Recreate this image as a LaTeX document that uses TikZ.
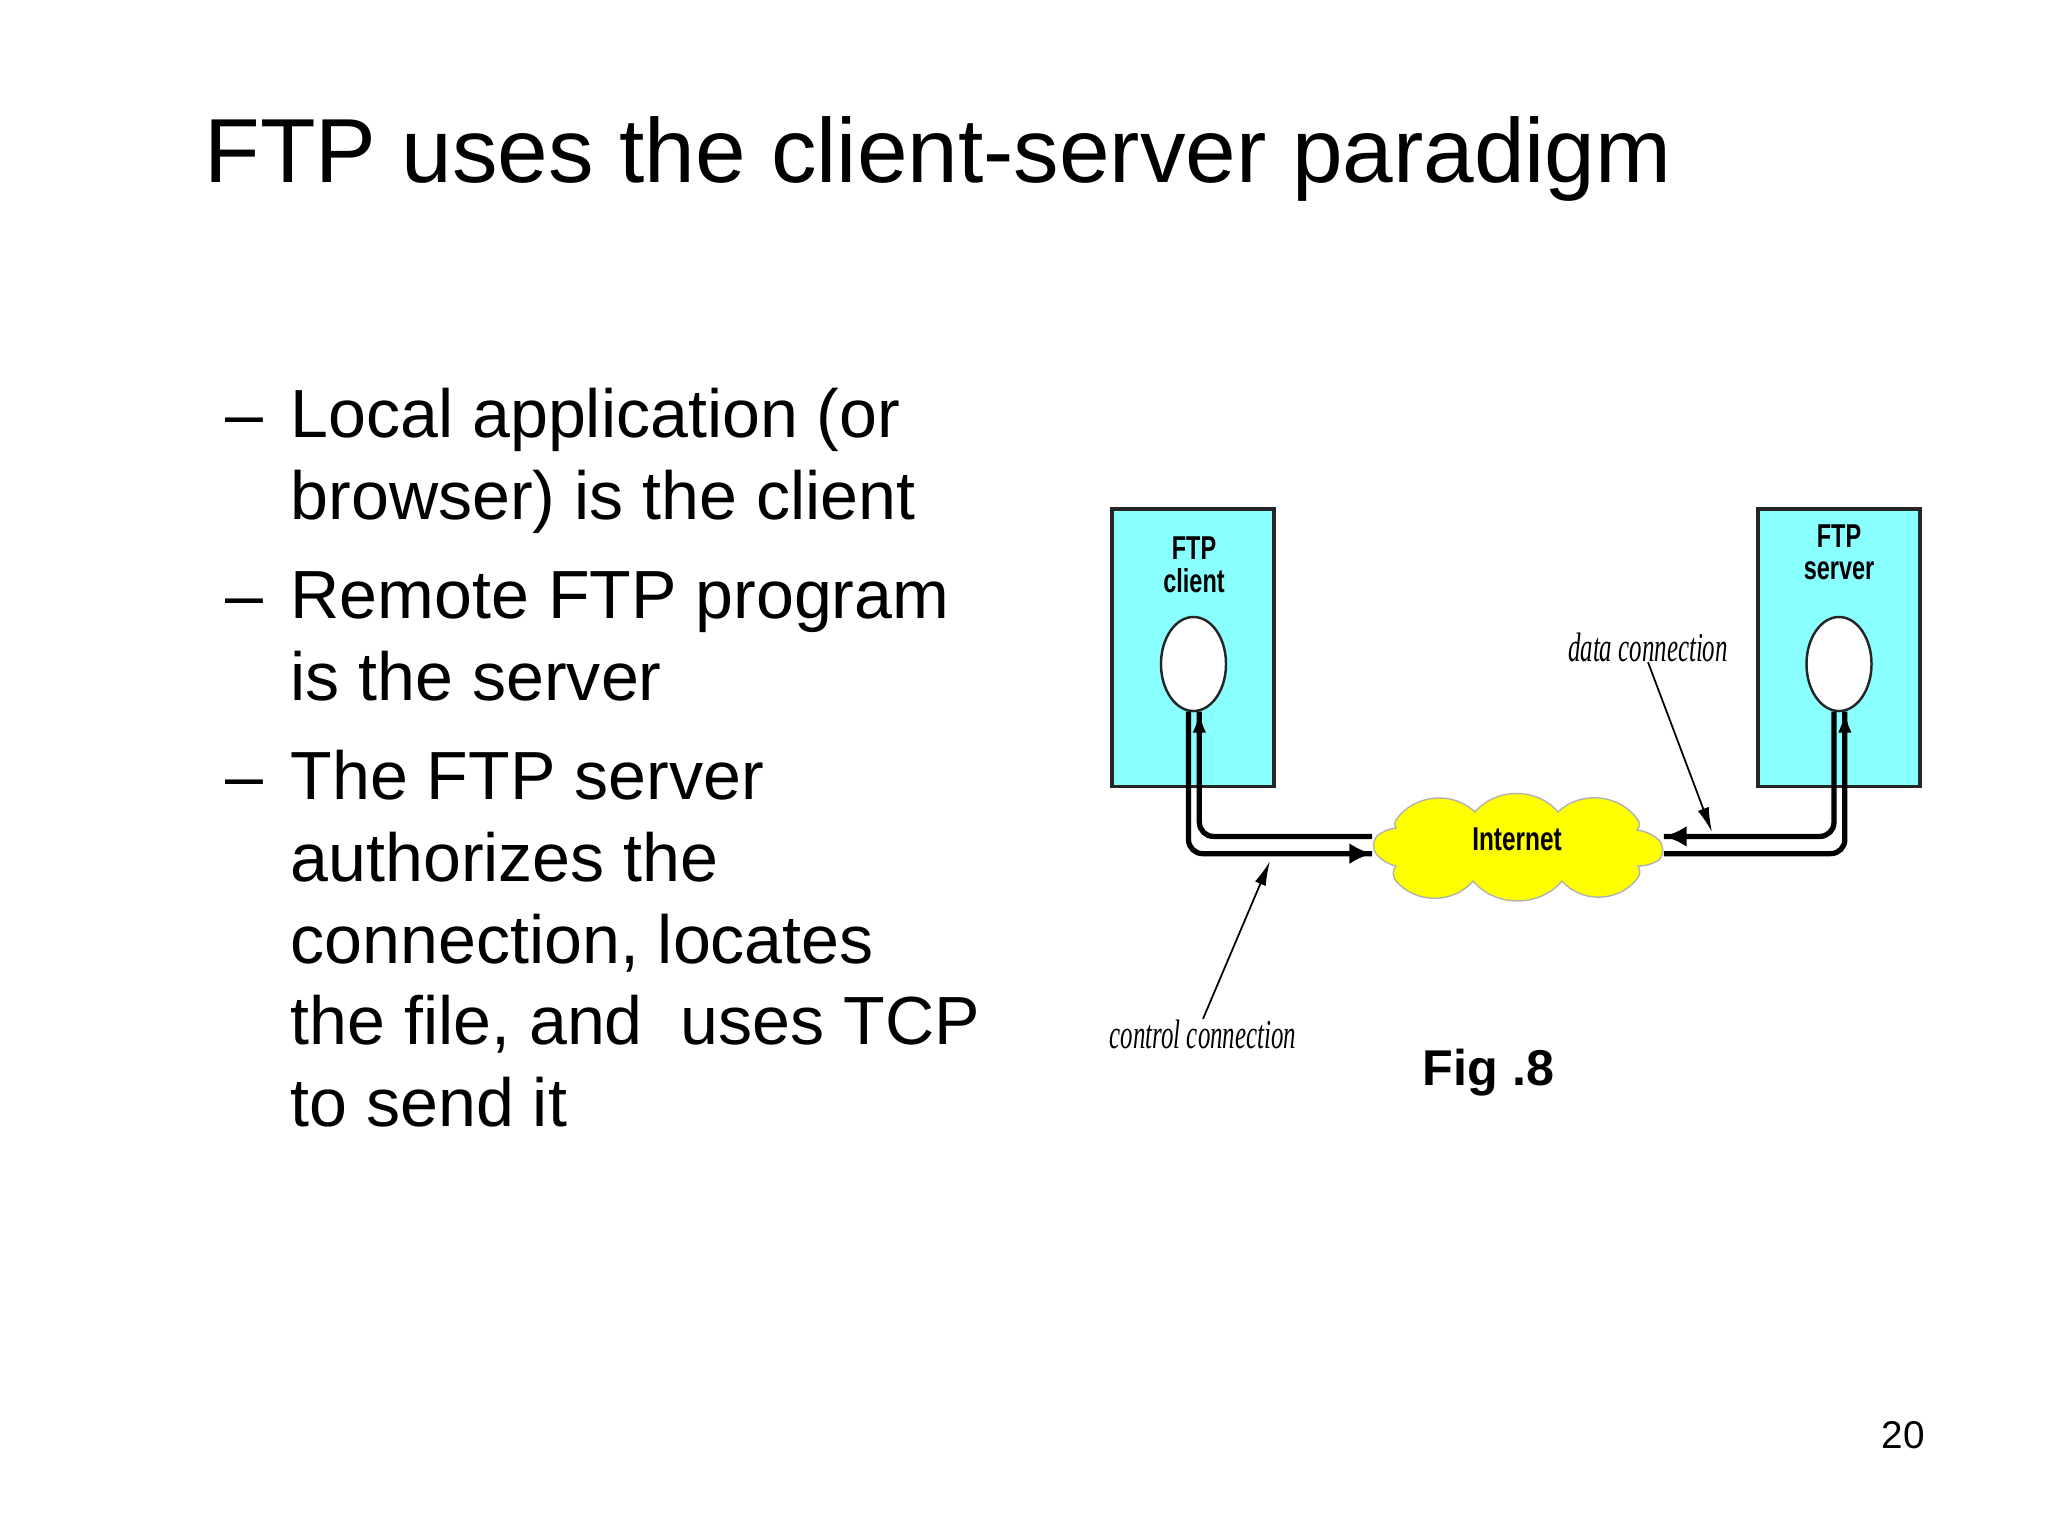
\documentclass[tikz,border=0pt]{standalone}
\usepackage{fontspec}
\setmainfont{Liberation Sans}
\newfontfamily\noteface{Liberation Serif}
\usepackage{tikz}
\usetikzlibrary{shapes.geometric, arrows.meta}
\definecolor{hostcyan}{HTML}{8AFFFF}
\definecolor{cloudyellow}{HTML}{FFFF00}

\begin{document}
\begin{tikzpicture}[x=0.01cm, y=-0.01cm,
title/.style={anchor=base west, inner sep=0, font=\fontsize{25.88}{30}\selectfont},
body/.style={anchor=base west, inner sep=0, font=\fontsize{19.37}{23}\selectfont},
host/.style={rectangle, draw=black!85, fill=hostcyan, line width=0.9pt, minimum width=1.62cm, minimum height=2.77cm, inner sep=0},
proc/.style={ellipse, draw=black!85, fill=white, line width=0.7pt, minimum width=0.65cm, minimum height=0.94cm, inner sep=0},
hostlabel/.style={inner sep=0, xscale=0.71, transform shape, font=\fontsize{9.4}{11}\bfseries\selectfont},
note/.style={inner sep=0, xscale=0.605, transform shape, font=\fontsize{11.7}{14}\noteface\itshape\selectfont},
wire/.style={line width=1.5pt, rounded corners=4pt},
wiretip/.style={line width=1.5pt, -{Latex[length=6.5pt,width=6pt]}},
uptip/.style={line width=1pt, -{Latex[length=6pt,width=3.8pt]}},
pointer/.style={line width=0.5pt, -{Latex[length=7pt,width=3.3pt]}},
lobe/.style={bend left=50}, nub/.style={bend left=40}, side/.style={bend left=15}]
  \useasboundingbox (0,0) rectangle (2048,1536);
  % heading
  \node[title] (head) at (204,182) {FTP uses the client-server paradigm};
  % bullet list
  \node[body] (d1) at (225,437)  {--};
  \node[body] (t1) at (290,437)  {Local application (or};
  \node[body] (t2) at (290,519)  {browser) is the client};
  \node[body] (d2) at (225,618)  {--};
  \node[body] (t3) at (290,618)  {Remote FTP program};
  \node[body] (t4) at (290,700)  {is the server};
  \node[body] (d3) at (225,799)  {--};
  \node[body] (t5) at (290,799)  {The FTP server};
  \node[body] (t6) at (290,881)  {authorizes the};
  \node[body] (t7) at (290,963)  {connection, locates};
  \node[body] (t8) at (290,1044) {the file, and\ \ uses TCP};
  \node[body] (t9) at (290,1126) {to send it};
  % hosts
  \node[host] (cbox) at (1193,647.5) {};
  \node[host] (sbox) at (1839,647.5) {};
  \node[hostlabel] (cl1) at (1194,548) {FTP};
  \node[hostlabel] (cl2) at (1194,581) {client};
  \node[hostlabel] (sl1) at (1839,536) {FTP};
  \node[hostlabel] (sl2) at (1839,571) {server};
  \node[proc] (cproc) at (1193.5,664) {};
  \node[proc] (sproc) at (1839,664) {};
  % internet
  \draw[draw=black!30, fill=cloudyellow] (1377,836) to[side] (1396,828) to[nub] (1396,820)
    to[lobe] (1475,812) to[lobe] (1558,812) to[lobe] (1638,820) to[nub] (1637,830)
    to[side] (1659,840) to[nub] (1659,860) to[side] (1638,866) to[nub] (1636,880)
    to[lobe] (1562,881) to[lobe] (1473,881) to[lobe] (1396,881) to[nub] (1396,866)
    to[side] (1377,855) to[nub] cycle;
  \node[minimum width=2.9cm, minimum height=1.09cm, inner sep=0] (net) at (1518,848) {};
  \node[hostlabel, xscale=1.04] (netl) at (1517,839) {Internet};
  % connections
  \draw[wire] (cproc.264) |- ([yshift=-1.6pt]net.west);
  \draw[wire] ([yshift=3.3pt]net.west) -| (cproc.277);
  \draw[wire] (sproc.264) |- ([yshift=3.3pt]net.east);
  \draw[wire] ([yshift=-1.6pt]net.east) -| (sproc.277);
  % tips
  \draw[wiretip] ([xshift=-8pt,yshift=-1.6pt]net.west) -- ([yshift=-1.6pt]net.west);
  \draw[wiretip] ([xshift=8pt,yshift=3.3pt]net.east) -- ([yshift=3.3pt]net.east);
  \draw[uptip] ([yshift=-7pt]cproc.277) -- (cproc.277);
  \draw[uptip] ([yshift=-7pt]sproc.277) -- (sproc.277);
  % notes
  \node[note] (cnote) at (1203,1034) {control connection};
  \node[note] (dnote) at (1648,647)  {data connection};
  \draw[pointer] (cnote.north) -- (1270,861);
  \draw[pointer] (dnote.south) -- (1712,832);
  % figure number and page number
  \node[anchor=base west, inner sep=0, font=\fontsize{14.3}{17}\bfseries\selectfont] (fig) at (1422,1085.5) {Fig .8};
  \node[anchor=base west, inner sep=0, font=\fontsize{11}{13}\selectfont] (page) at (1881,1448.5) {20};
\end{tikzpicture}
\end{document}
